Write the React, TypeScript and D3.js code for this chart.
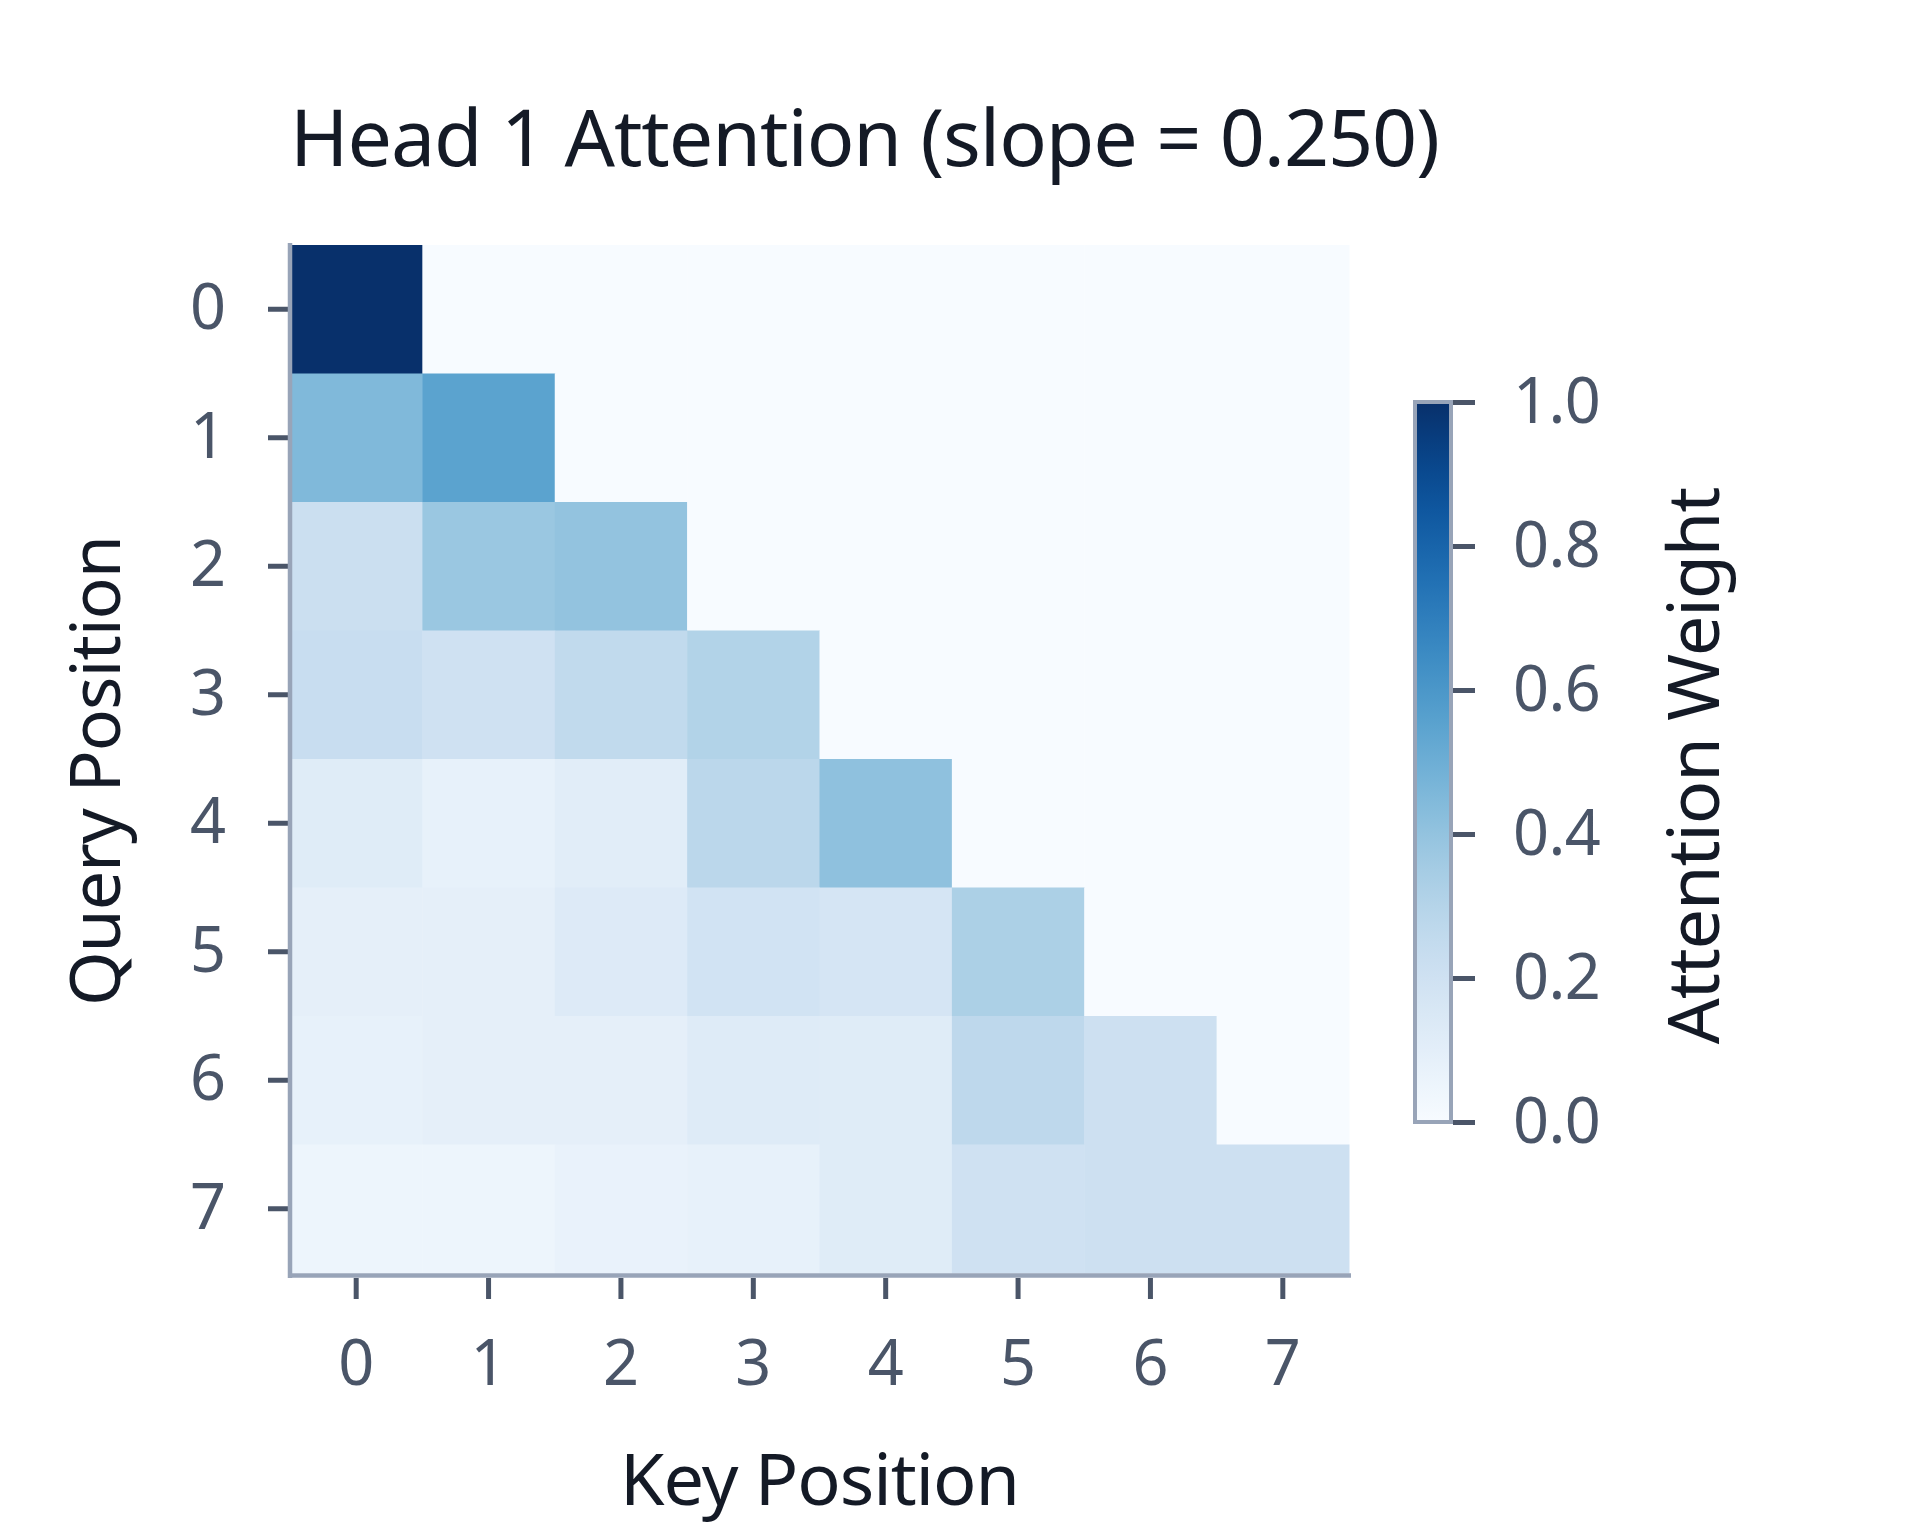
import React, { useRef, useEffect } from 'react';
import * as d3 from 'd3';

// Attention weights for head 1 (rows = query, cols = key); causal mask -> 0
const keyLabels = ['0', '1', '2', '3', '4', '5', '6', '7'];
const queryLabels = ['0', '1', '2', '3', '4', '5', '6', '7'];
const attentionWeights: number[][] = [
  [1.0, 0, 0, 0, 0, 0, 0, 0],
  [0.45, 0.55, 0, 0, 0, 0, 0, 0],
  [0.22, 0.38, 0.4, 0, 0, 0, 0, 0],
  [0.23, 0.2, 0.26, 0.31, 0, 0, 0, 0],
  [0.12, 0.08, 0.11, 0.28, 0.41, 0, 0, 0],
  [0.09, 0.09, 0.13, 0.19, 0.17, 0.33, 0, 0],
  [0.08, 0.09, 0.09, 0.125, 0.12, 0.27, 0.21, 0],
  [0.05, 0.05, 0.07, 0.08, 0.12, 0.2, 0.21, 0.21],
];
const colorbarTicks = [0, 0.2, 0.4, 0.6, 0.8, 1.0];

const WIDTH = 1920;
const HEIGHT = 1536;
const FONT = '"Noto Sans", "Open Sans", sans-serif';
const TEXT_DARK = '#141a26';
const TICK_COLOR = '#4a5568';
const SPINE_COLOR = '#98a4b8';

const AttentionHeatmap: React.FC = () => {
  const svgRef = useRef<SVGSVGElement>(null);

  useEffect(() => {
    if (!svgRef.current) return;
    document.body.style.margin = '0';

    const svg = d3.select(svgRef.current);
    svg.selectAll('*').remove();

    const left = 290, right = 1349, top = 245, bottom = 1273;

    const x = d3.scaleBand<string>().domain(keyLabels).range([left, right]);
    const y = d3.scaleBand<string>().domain(queryLabels).range([top, bottom]);
    const color = (v: number) => d3.interpolateBlues(v);

    // cells
    const cells = attentionWeights.flatMap((row, qi) =>
      row.map((v, ki) => ({ q: queryLabels[qi], k: keyLabels[ki], v }))
    );
    svg.append('g')
      .selectAll('rect')
      .data(cells)
      .enter().append('rect')
      .attr('x', d => x(d.k)!)
      .attr('y', d => y(d.q)!)
      .attr('width', x.bandwidth() + 0.5)
      .attr('height', y.bandwidth() + 0.5)
      .attr('fill', d => color(d.v));

    // left axis
    const yAxis = svg.append('g')
      .attr('transform', `translate(${left - 2},0)`)
      .call(d3.axisLeft(y).tickSize(20).tickPadding(42));
    yAxis.select('.domain').remove();
    yAxis.selectAll('line').attr('stroke', TICK_COLOR).attr('stroke-width', 5);
    yAxis.selectAll('text')
      .attr('fill', TICK_COLOR)
      .style('font-family', FONT)
      .style('font-size', '63px');

    // bottom axis
    const xAxis = svg.append('g')
      .attr('transform', `translate(0,${bottom + 5})`)
      .call(d3.axisBottom(x).tickSize(21).tickPadding(41));
    xAxis.select('.domain').remove();
    xAxis.selectAll('line').attr('stroke', TICK_COLOR).attr('stroke-width', 5);
    xAxis.selectAll('text')
      .attr('fill', TICK_COLOR)
      .style('font-family', FONT)
      .style('font-size', '63px');

    // spines
    svg.append('line')
      .attr('x1', left).attr('x2', left)
      .attr('y1', top - 2).attr('y2', bottom + 5)
      .attr('stroke', SPINE_COLOR).attr('stroke-width', 4.5);
    svg.append('line')
      .attr('x1', left - 2).attr('x2', right + 2)
      .attr('y1', bottom + 2.5).attr('y2', bottom + 2.5)
      .attr('stroke', SPINE_COLOR).attr('stroke-width', 4.5);

    // title
    svg.append('text')
      .attr('x', left)
      .attr('y', 166)
      .attr('fill', TEXT_DARK)
      .style('font-family', FONT)
      .style('font-size', '79px')
      .style('letter-spacing', '-1.1px')
      .text('Head 1 Attention (slope = 0.250)');

    // axis labels
    svg.append('text')
      .attr('x', (left + right) / 2)
      .attr('y', 1505)
      .attr('text-anchor', 'middle')
      .attr('fill', TEXT_DARK)
      .style('font-family', FONT)
      .style('font-size', '72px')
      .style('letter-spacing', '-1.1px')
      .text('Key Position');

    svg.append('text')
      .attr('transform', `translate(120,${(top + bottom) / 2 + 12}) rotate(-90)`)
      .attr('text-anchor', 'middle')
      .attr('fill', TEXT_DARK)
      .style('font-family', FONT)
      .style('font-size', '70px')
      .style('letter-spacing', '-1.1px')
      .text('Query Position');

    // colorbar
    const cbX = 1415, cbW = 36, cbTop = 402, cbBottom = 1122;
    const cScale = d3.scaleLinear().domain([0, 1]).range([cbBottom, cbTop]);

    const defs = svg.append('defs');
    const grad = defs.append('linearGradient')
      .attr('id', 'blues-grad')
      .attr('x1', '0').attr('y1', '1').attr('x2', '0').attr('y2', '0');
    d3.range(0, 1.0001, 0.05).forEach(t => {
      grad.append('stop').attr('offset', `${t * 100}%`).attr('stop-color', color(t));
    });

    svg.append('rect')
      .attr('x', cbX).attr('y', cbTop)
      .attr('width', cbW).attr('height', cbBottom - cbTop)
      .attr('fill', 'url(#blues-grad)')
      .attr('stroke', SPINE_COLOR)
      .attr('stroke-width', 4);

    const cAxis = svg.append('g')
      .attr('transform', `translate(${cbX + cbW + 2},0)`)
      .call(d3.axisRight(cScale).tickValues(colorbarTicks).tickFormat(d3.format('.1f')).tickSize(22).tickPadding(38));
    cAxis.select('.domain').remove();
    cAxis.selectAll('line').attr('stroke', TICK_COLOR).attr('stroke-width', 5);
    cAxis.selectAll('text')
      .attr('fill', TICK_COLOR)
      .style('font-family', FONT)
      .style('font-size', '63px')
      .style('letter-spacing', '-0.6px');

    svg.append('text')
      .attr('transform', `translate(1719,${(cbTop + cbBottom) / 2 + 4}) rotate(-90)`)
      .attr('text-anchor', 'middle')
      .attr('fill', TEXT_DARK)
      .style('font-family', FONT)
      .style('font-size', '72px')
      .style('letter-spacing', '-1.1px')
      .text('Attention Weight');
  }, []);

  return <svg ref={svgRef} width={WIDTH} height={HEIGHT} style={{ display: 'block', background: '#fff' }}></svg>;
};

export default function App() {
  return <AttentionHeatmap />;
}
